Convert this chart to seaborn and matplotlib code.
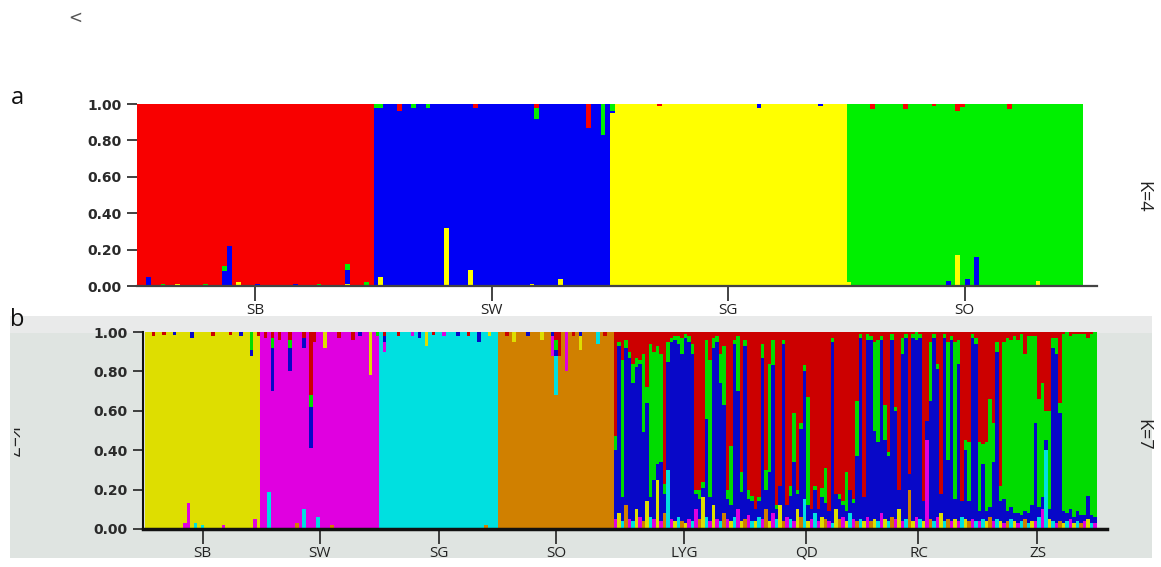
import numpy as np
import pandas as pd
import matplotlib
matplotlib.use("Agg")
import matplotlib.pyplot as plt
from matplotlib.patches import Rectangle
from matplotlib.transforms import Bbox
import seaborn as sns

# ---------------- panel a : K=4 ----------------
a_pops = ["SB", "SW", "SG", "SO"]
a_sizes = [50, 50, 50, 50]
a_main = ["red", "blue", "yellow", "green"]
a_order = ["yellow", "blue", "green", "red"]  # bottom -> top
a_colors = {"yellow": "#ffff00", "blue": "#0000f5", "green": "#00f000", "red": "#f80000"}
# admixed individuals: (population, individual, cluster, proportion)
a_admix = [
    ("SB", 2, "blue", 0.05), ("SB", 5, "green", 0.01), ("SB", 8, "yellow", 0.01), ("SB", 14, "green", 0.01),
    ("SB", 18, "blue", 0.08), ("SB", 18, "green", 0.03), ("SB", 19, "blue", 0.22), ("SB", 21, "yellow", 0.02),
    ("SB", 25, "blue", 0.01), ("SB", 33, "blue", 0.01), ("SB", 38, "green", 0.01), ("SB", 44, "yellow", 0.01),
    ("SB", 44, "blue", 0.08), ("SB", 44, "green", 0.03), ("SB", 48, "green", 0.02),
    ("SW", 0, "green", 0.02), ("SW", 1, "yellow", 0.05), ("SW", 1, "green", 0.02), ("SW", 5, "red", 0.04),
    ("SW", 8, "green", 0.02), ("SW", 11, "green", 0.02), ("SW", 15, "yellow", 0.32), ("SW", 20, "yellow", 0.09),
    ("SW", 21, "red", 0.02), ("SW", 33, "yellow", 0.01), ("SW", 34, "green", 0.06), ("SW", 34, "red", 0.02),
    ("SW", 39, "yellow", 0.04), ("SW", 45, "red", 0.13), ("SW", 48, "green", 0.17),
    ("SG", 0, "green", 0.04), ("SG", 0, "blue", 0.01), ("SG", 10, "red", 0.01), ("SG", 31, "blue", 0.02),
    ("SG", 44, "blue", 0.01),
    ("SO", 0, "yellow", 0.02), ("SO", 5, "red", 0.03), ("SO", 12, "red", 0.03), ("SO", 18, "red", 0.01),
    ("SO", 21, "blue", 0.03), ("SO", 23, "yellow", 0.17), ("SO", 23, "red", 0.04), ("SO", 24, "red", 0.015),
    ("SO", 25, "blue", 0.04), ("SO", 27, "blue", 0.16), ("SO", 34, "red", 0.03), ("SO", 40, "yellow", 0.03),
]

# ---------------- panel b : K=7 ----------------
b_pops = ["SB", "SW", "SG", "SO", "LYG", "QD", "RC", "ZS"]
b_sizes = [33, 34, 34, 33, 40, 30, 34, 34]
b_main = ["yellow", "magenta", "cyan", "orange"]
b_order = ["orange", "cyan", "magenta", "yellow", "blue", "green", "red"]  # bottom -> top
b_colors = {"orange": "#d08000", "cyan": "#00e0e0", "magenta": "#e000e0", "yellow": "#dede00",
            "blue": "#0808c8", "green": "#00dc00", "red": "#cc0000"}
floor_codes = {"o": "orange", "c": "cyan", "m": "magenta", "y": "yellow"}

b_admix = [
    ("SB", 2, "red", 0.02), ("SB", 5, "red", 0.015), ("SB", 8, "blue", 0.015), ("SB", 11, "magenta", 0.03),
    ("SB", 12, "magenta", 0.13), ("SB", 13, "blue", 0.03), ("SB", 14, "cyan", 0.03), ("SB", 16, "cyan", 0.02),
    ("SB", 19, "red", 0.02), ("SB", 22, "magenta", 0.02), ("SB", 24, "red", 0.015), ("SB", 27, "blue", 0.02),
    ("SB", 30, "blue", 0.03), ("SB", 30, "green", 0.09), ("SB", 31, "magenta", 0.05), ("SB", 32, "red", 0.02),
    ("SW", 1, "red", 0.03), ("SW", 2, "cyan", 0.19), ("SW", 3, "blue", 0.22), ("SW", 3, "green", 0.05),
    ("SW", 3, "red", 0.03), ("SW", 5, "red", 0.04), ("SW", 8, "blue", 0.12), ("SW", 8, "green", 0.04),
    ("SW", 8, "red", 0.04), ("SW", 10, "orange", 0.03), ("SW", 12, "cyan", 0.10), ("SW", 12, "blue", 0.05),
    ("SW", 12, "red", 0.03), ("SW", 14, "blue", 0.21), ("SW", 14, "green", 0.06), ("SW", 14, "red", 0.32),
    ("SW", 15, "red", 0.05), ("SW", 16, "cyan", 0.06), ("SW", 18, "yellow", 0.08), ("SW", 20, "orange", 0.02),
    ("SW", 22, "red", 0.03), ("SW", 26, "red", 0.04), ("SW", 28, "blue", 0.02), ("SW", 31, "yellow", 0.22),
    ("SW", 33, "green", 0.02),
    ("SG", 1, "magenta", 0.05), ("SG", 1, "blue", 0.03), ("SG", 1, "red", 0.02), ("SG", 5, "red", 0.02),
    ("SG", 9, "magenta", 0.02), ("SG", 11, "blue", 0.03), ("SG", 13, "yellow", 0.07), ("SG", 15, "red", 0.015),
    ("SG", 18, "magenta", 0.02), ("SG", 22, "blue", 0.02), ("SG", 25, "red", 0.02), ("SG", 28, "blue", 0.05),
    ("SG", 30, "orange", 0.02), ("SG", 31, "yellow", 0.02),
    ("SO", 2, "red", 0.02), ("SO", 4, "yellow", 0.05), ("SO", 8, "blue", 0.02), ("SO", 12, "yellow", 0.04),
    ("SO", 15, "magenta", 0.10), ("SO", 15, "blue", 0.02), ("SO", 16, "cyan", 0.20), ("SO", 16, "blue", 0.03),
    ("SO", 16, "green", 0.05), ("SO", 16, "red", 0.04), ("SO", 17, "red", 0.12), ("SO", 19, "magenta", 0.20),
    ("SO", 21, "red", 0.02), ("SO", 23, "yellow", 0.07), ("SO", 23, "blue", 0.02), ("SO", 28, "cyan", 0.06),
    ("SO", 30, "red", 0.02),
]

# admixed populations: blue and green per individual, a small "floor" of minor clusters, red = rest
lyg_blue = [0.35, 0.85, 0.12, 0.80, 0.82, 0.70, 0.72, 0.78, 0.45, 0.50,
            0.10, 0.20, 0.08, 0.30, 0.10, 0.55, 0.90, 0.92, 0.88, 0.85,
            0.94, 0.90, 0.85, 0.08, 0.10, 0.05, 0.50, 0.12, 0.80, 0.90,
            0.70, 0.55, 0.10, 0.08, 0.88, 0.60, 0.15, 0.88, 0.08, 0.10]
lyg_green = [0.07, 0.02, 0.70, 0.04, 0.03, 0.10, 0.05, 0.02, 0.40, 0.08,
             0.78, 0.65, 0.60, 0.55, 0.05, 0.10, 0.02, 0.02, 0.04, 0.08,
             0.02, 0.03, 0.05, 0.02, 0.05, 0.03, 0.40, 0.70, 0.05, 0.03,
             0.15, 0.30, 0.05, 0.30, 0.02, 0.28, 0.10, 0.03, 0.05, 0.03]
lyg_floor = "mycomcymoy" "cmymocmyco" "ymcmoycmym" "comycmyomc"
lyg_floor_q = [0.05, 0.08, 0.04, 0.12, 0.05, 0.04, 0.10, 0.06, 0.04, 0.14,
               0.06, 0.05, 0.25, 0.04, 0.08, 0.30, 0.05, 0.04, 0.06, 0.04,
               0.03, 0.05, 0.04, 0.10, 0.05, 0.16, 0.06, 0.04, 0.12, 0.05,
               0.04, 0.08, 0.05, 0.04, 0.06, 0.10, 0.04, 0.05, 0.07, 0.04]

qd_blue = [0.06, 0.08, 0.82, 0.10, 0.25, 0.75, 0.05, 0.10, 0.90, 0.06,
           0.12, 0.30, 0.08, 0.45, 0.65, 0.08, 0.05, 0.12, 0.06, 0.10,
           0.08, 0.05, 0.92, 0.08, 0.10, 0.06, 0.05, 0.12, 0.08, 0.33]
qd_green = [0.00, 0.02, 0.07, 0.10, 0.55, 0.13, 0.02, 0.00, 0.02, 0.00,
            0.05, 0.25, 0.02, 0.03, 0.03, 0.55, 0.00, 0.02, 0.00, 0.05,
            0.18, 0.00, 0.02, 0.00, 0.03, 0.02, 0.20, 0.00, 0.02, 0.28]
qd_floor = "ycmoymcyom" "cmyocymcmy" "omcyomycmo"
qd_floor_q = [0.04, 0.06, 0.05, 0.10, 0.04, 0.08, 0.05, 0.12, 0.04, 0.06,
              0.05, 0.04, 0.10, 0.06, 0.15, 0.04, 0.05, 0.08, 0.04, 0.06,
              0.05, 0.04, 0.03, 0.10, 0.05, 0.06, 0.04, 0.08, 0.05, 0.04]

rc_blue = [0.92, 0.12, 0.90, 0.92, 0.45, 0.40, 0.88, 0.40, 0.33, 0.90,
           0.55, 0.10, 0.85, 0.92, 0.08, 0.93, 0.90, 0.92, 0.10, 0.10,
           0.60, 0.93, 0.75, 0.10, 0.93, 0.30, 0.92, 0.10, 0.80, 0.08,
           0.35, 0.10, 0.92, 0.90]
rc_green = [0.02, 0.00, 0.03, 0.02, 0.45, 0.52, 0.02, 0.18, 0.02, 0.03,
            0.02, 0.00, 0.08, 0.02, 0.00, 0.02, 0.04, 0.02, 0.00, 0.00,
            0.30, 0.02, 0.03, 0.00, 0.02, 0.60, 0.02, 0.80, 0.12, 0.00,
            0.05, 0.30, 0.02, 0.03]
rc_floor = "cymoycmyco" "mymcoymcym" "ocmycomymc" "yomc"
rc_floor_q = [0.05, 0.04, 0.06, 0.04, 0.05, 0.04, 0.08, 0.05, 0.04, 0.06,
              0.05, 0.10, 0.04, 0.05, 0.20, 0.04, 0.06, 0.05, 0.04, 0.45,
              0.05, 0.04, 0.06, 0.08, 0.04, 0.05, 0.04, 0.05, 0.04, 0.06,
              0.05, 0.04, 0.05, 0.04]

zs_blue = [0.05, 0.28, 0.05, 0.05, 0.30, 0.85, 0.10, 0.12, 0.05, 0.06,
           0.04, 0.05, 0.03, 0.04, 0.05, 0.08, 0.50, 0.05, 0.06, 0.05,
           0.05, 0.88, 0.86, 0.55, 0.06, 0.04, 0.05, 0.03, 0.05, 0.04,
           0.03, 0.12, 0.04, 0.03]
zs_green = [0.35, 0.10, 0.35, 0.55, 0.20, 0.05, 0.08, 0.80, 0.88, 0.85,
            0.90, 0.88, 0.92, 0.80, 0.90, 0.86, 0.44, 0.55, 0.58, 0.15,
            0.50, 0.05, 0.08, 0.05, 0.90, 0.92, 0.88, 0.93, 0.90, 0.92,
            0.92, 0.80, 0.92, 0.94]
zs_floor = "mcyomcymoc" "ymcocymcmc" "ycmoycmyco" "mycm"
zs_floor_q = [0.04, 0.05, 0.04, 0.06, 0.04, 0.05, 0.04, 0.03, 0.04, 0.05,
              0.04, 0.03, 0.04, 0.05, 0.03, 0.04, 0.04, 0.06, 0.10, 0.40,
              0.05, 0.04, 0.03, 0.04, 0.03, 0.04, 0.05, 0.03, 0.04, 0.03,
              0.04, 0.05, 0.03, 0.03]

admixed = {
    "LYG": (lyg_blue, lyg_green, lyg_floor, lyg_floor_q),
    "QD": (qd_blue, qd_green, qd_floor, qd_floor_q),
    "RC": (rc_blue, rc_green, rc_floor, rc_floor_q),
    "ZS": (zs_blue, zs_green, zs_floor, zs_floor_q),
}


def simple_pops(pops, sizes, mains, clusters, admix):
    rows = []
    start = 0
    for pop, n, main in zip(pops, sizes, mains):
        for i in range(n):
            q = {c: 0.0 for c in clusters}
            for p, j, c, v in admix:
                if p == pop and j == i:
                    q[c] += v
            q[main] = 1 - sum(q.values())
            for c in clusters:
                rows.append((start + i, pop, c, q[c]))
        start += n
    return rows, start


W, H = 1161, 567
sns.set_style("ticks")
plt.rcParams["font.family"] = ["DejaVu Sans"]

fig = plt.figure(figsize=(W / 100, H / 100), dpi=100)

# grey frame behind panel b
fig.patches.append(Rectangle((10 / W, (H - 558) / H), 1142 / W, 242 / H, transform=fig.transFigure,
                             facecolor="#dfe4e1", edgecolor="none", zorder=-2))
fig.patches.append(Rectangle((10 / W, (H - 333) / H), 1142 / W, 17 / H, transform=fig.transFigure,
                             facecolor="#e9eaea", edgecolor="none", zorder=-1))

# ---- panel a
rows_a, n_a = simple_pops(a_pops, a_sizes, a_main, a_order, a_admix)
df_a = pd.DataFrame(rows_a, columns=["ind", "pop", "cluster", "q"])
ax_a = fig.add_axes([137 / W, (H - 286) / H, 960 / W, 182 / H])
sns.histplot(data=df_a, x="ind", weights="q", hue="cluster", hue_order=a_order[::-1],
             palette=a_colors, multiple="stack", discrete=True, shrink=1, linewidth=0,
             antialiased=False, alpha=1, legend=False, ax=ax_a)

# ---- panel b
rows_b, n_b = simple_pops(b_pops[:4], b_sizes[:4], b_main, b_order, b_admix)
start = n_b
for pop, n in zip(b_pops[4:], b_sizes[4:]):
    blue, green, floor, floor_q = admixed[pop]
    for i in range(n):
        q = {c: 0.0 for c in b_order}
        q[floor_codes[floor[i]]] += floor_q[i]
        q["blue"] = blue[i]
        q["green"] = green[i]
        q["red"] = max(0.0, 1 - sum(q.values()))
        for c in b_order:
            rows_b.append((start + i, pop, c, q[c]))
    start += n
n_b = start
df_b = pd.DataFrame(rows_b, columns=["ind", "pop", "cluster", "q"])
ax_b = fig.add_axes([143 / W, (H - 529) / H, 964 / W, 197 / H])
ax_b.set_facecolor("none")
sns.histplot(data=df_b, x="ind", weights="q", hue="cluster", hue_order=b_order[::-1],
             palette=b_colors, multiple="stack", discrete=True, shrink=1, linewidth=0,
             antialiased=False, alpha=1, legend=False, ax=ax_b)

# ---- axes styling
yt = [0, 0.2, 0.4, 0.6, 0.8, 1.0]
for ax, pops, sizes, xmax, xmin in [(ax_a, a_pops, a_sizes, n_a - 0.5 + 2.95, -0.5),
                                    (ax_b, b_pops, b_sizes, n_b - 0.5 + 2.86, -1.07)]:
    edges = np.cumsum([0] + sizes)
    centers = (edges[:-1] + edges[1:]) / 2 - 0.5
    ax.set_xlim(xmin, xmax)
    ax.set_ylim(0, 1)
    ax.set_xticks(centers)
    ax.set_xticklabels(pops, fontfamily="Open Sans", fontsize=11, color="#222222")
    ax.set_yticks(yt)
    ax.set_yticklabels([f"{v:.2f}" for v in yt], fontweight="bold", fontsize=10, color="#2a2a2a")
    ax.set_xlabel("")
    ax.set_ylabel("")
    ax.tick_params(axis="x", length=11, width=1.2, color="#222222", pad=1)
    ax.tick_params(axis="y", length=7, width=1.2, color="#222222", pad=4)
    for s in ["top", "right"]:
        ax.spines[s].set_visible(False)

ax_a.spines["left"].set_visible(False)
ax_a.spines["bottom"].set_color("#444444")
ax_a.spines["bottom"].set_linewidth(1.6)
ax_b.spines["left"].set_color("#111111")
ax_b.spines["left"].set_linewidth(1.5)
ax_b.spines["bottom"].set_color("#111111")
ax_b.spines["bottom"].set_linewidth(2.5)

# ---- texts
fig.text(75 / W, 1 - 18 / H, "<", fontsize=12, color="#555555", ha="center", va="center")
fig.text(17 / W, 1 - 98 / H, "a", fontsize=17, fontfamily="Open Sans", color="#111111", ha="center", va="center")
fig.text(17 / W, 1 - 320 / H, "b", fontsize=17, fontfamily="Open Sans", color="#111111", ha="center", va="center")
fig.text(1143 / W, 1 - 197 / H, "K=4", fontsize=13, fontfamily="Open Sans", color="#222222",
         rotation=-90, ha="center", va="center")
fig.text(1143 / W, 1 - 435 / H, "K=7", fontsize=13, fontfamily="Open Sans", color="#222222",
         rotation=-90, ha="center", va="center")
cut = fig.text(9 / W, 1 - 443 / H, "K=7", fontsize=13, fontfamily="Open Sans", color="#222222",
               rotation=-90, ha="center", va="center")
cut.set_clip_box(Bbox.from_extents(14, 80, 24, 180))
cut.set_clip_on(True)

fig.savefig("out.png", dpi=100)
